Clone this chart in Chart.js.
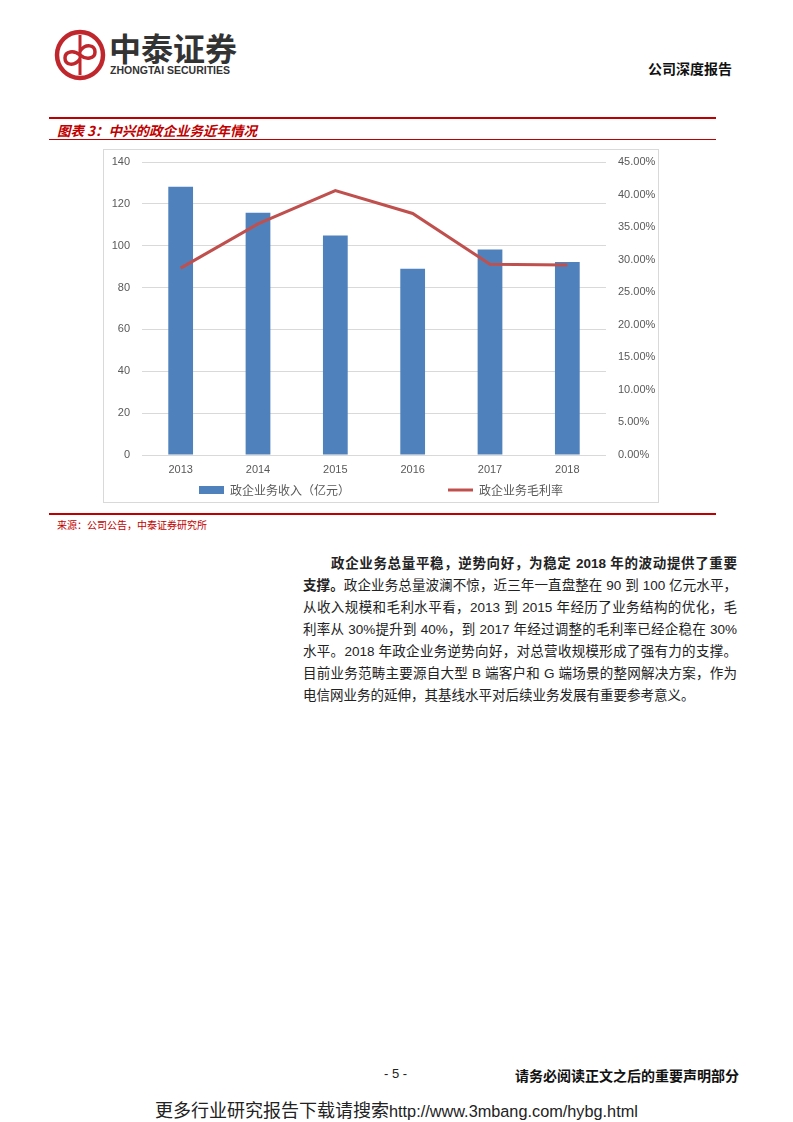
<!DOCTYPE html>
<html>
<head>
<meta charset="utf-8">
<script src="https://cdn.jsdelivr.net/npm/chart.js@4.4.1/dist/chart.umd.min.js"></script>
<style>
  body { margin: 0; background: #fff; font-family: "Liberation Sans", "Noto Sans CJK SC", sans-serif; }
  .page { position: relative; width: 793px; height: 1122px; overflow: hidden; }
  .abs { position: absolute; white-space: nowrap; }
  .red-line { position: absolute; left: 49px; width: 667px; background: #c00000; }
  #chartBox { position: absolute; left: 103px; top: 149px; width: 556px; height: 354px;
              border: 1px solid #d9d9d9; box-sizing: border-box; }
  .body-text { position: absolute; left: 303px; top: 553px; width: 434px; font-size: 13.5px;
               line-height: 22px; color: #222; }
  .body-text div { text-align: justify; text-align-last: justify; white-space: nowrap; }
  .body-text div.last { text-align-last: left; }
</style>
</head>
<body>
<div class="page">
  <!-- header -->
  <svg class="abs" style="left:54px;top:29px" width="52" height="52" viewBox="0 0 52 52">
    <circle cx="26" cy="26" r="23" fill="none" stroke="#c0272d" stroke-width="4.5"/>
    <path d="M26 6 V46" stroke="#c0272d" stroke-width="3" fill="none"/>
    <path d="M26 30 C20 38 11 36 11 29 C11 22 20 21 26 26 C32 31 41 30 41 23 C41 16 32 14 26 22"
          stroke="#c0272d" stroke-width="3.5" fill="none"/>
  </svg>
  <div class="abs" style="left:109px;top:29px;font-size:32px;font-weight:bold;color:#333;font-family:'Noto Sans CJK SC';line-height:36px">中泰证券</div>
  <div class="abs" style="left:110px;top:64px;font-size:10.5px;font-weight:bold;color:#333;font-family:'Liberation Sans'">ZHONGTAI SECURITIES</div>
  <div class="abs" style="left:648px;top:58px;font-size:14px;font-weight:bold;color:#111;font-family:'Noto Sans CJK SC'">公司深度报告</div>

  <!-- figure title -->
  <div class="red-line" style="top:117px;height:2px"></div>
  <div class="abs" style="left:57px;top:120px;font-size:13.5px;font-weight:bold;font-style:italic;color:#c00000;font-family:'Noto Sans CJK SC'">图表 3：中兴的政企业务近年情况</div>
  <div class="red-line" style="top:139px;height:1px"></div>

  <div id="chartBox"><canvas id="govChart"></canvas></div>

  <div class="red-line" style="top:513px;height:1.5px"></div>
  <div class="abs" style="left:57px;top:517px;font-size:10px;color:#c00000;font-family:'Noto Sans CJK SC'">来源：公司公告，中泰证券研究所</div>

  <!-- body text -->
  <div class="body-text">
    <div style="padding-left:28px;font-weight:bold">政企业务总量平稳，逆势向好，为稳定 2018 年的波动提供了重要</div>
    <div><b>支撑。</b>政企业务总量波澜不惊，近三年一直盘整在 90 到 100 亿元水平，</div>
    <div>从收入规模和毛利水平看，2013 到 2015 年经历了业务结构的优化，毛</div>
    <div>利率从 30%提升到 40%，到 2017 年经过调整的毛利率已经企稳在 30%</div>
    <div>水平。2018 年政企业务逆势向好，对总营收规模形成了强有力的支撑。</div>
    <div>目前业务范畴主要源自大型 B 端客户和 G 端场景的整网解决方案，作为</div>
    <div class="last">电信网业务的延伸，其基线水平对后续业务发展有重要参考意义。</div>
  </div>

  <!-- footer -->
  <div class="abs" style="left:384px;top:1066px;font-size:13px;color:#222">- 5 -</div>
  <div class="abs" style="left:515px;top:1065px;font-size:14px;font-weight:bold;color:#111;font-family:'Noto Sans CJK SC'">请务必阅读正文之后的重要声明部分</div>
  <div class="abs" style="left:155px;top:1096px;font-size:18px;color:#222;font-family:'Noto Sans CJK SC'">更多行业研究报告下载请搜索<span style="font-family:'Liberation Sans';font-size:16.3px">http://www.3mbang.com/hybg.html</span></div>
</div>

<script>
  // chart data
  const years = ['2013', '2014', '2015', '2016', '2017', '2018'];
  const revenue = [128.2, 115.8, 104.9, 89.0, 98.2, 92.2];   // 亿元
  const grossMargin = [28.7, 35.5, 40.6, 37.1, 29.3, 29.2];   // %
  const revenueLabel = '政企业务收入（亿元）';
  const marginLabel = '政企业务毛利率';

  const barColor = '#4f81bd';
  const lineColor = '#c0504d';
  const tickColor = '#595959';
  const gridColor = '#d9d9d9';

  // fixed axis sizes so the plot area lines up with the page
  function fitVertical(width) {
    return function(scale) {
      scale.width = width;
      scale.paddingTop = 0;
      scale.paddingBottom = 0;
    };
  }

  const ctx = document.getElementById('govChart').getContext('2d');
  const govChart = new Chart(ctx, {
    data: {
      labels: years,
      datasets: [{
        type: 'bar',
        label: revenueLabel,
        data: revenue,
        backgroundColor: barColor,
        barPercentage: 0.32,
        categoryPercentage: 1,
        yAxisID: 'y',
        order: 1
      }, {
        type: 'line',
        label: marginLabel,
        data: grossMargin,
        borderColor: lineColor,
        borderWidth: 3,
        pointRadius: 0,
        tension: 0,
        yAxisID: 'y1',
        order: 0
      }]
    },
    options: {
      responsive: true,
      maintainAspectRatio: false,
      animation: false,
      layout: { padding: { top: 12, bottom: 0, left: 0, right: 0 } },
      plugins: {
        tooltip: { enabled: false },
        legend: {
          position: 'bottom',
          maxHeight: 26,
          labels: {
            usePointStyle: true,
            pointStyleWidth: 25,
            boxHeight: 8,
            padding: 8,
            color: tickColor,
            font: { size: 12, family: '"Noto Sans CJK SC", sans-serif' },
            generateLabels: function() {
              return [
                { text: revenueLabel + '\u3000'.repeat(8), fillStyle: barColor, strokeStyle: barColor,
                  lineWidth: 0, pointStyle: 'rect', datasetIndex: 0, fontColor: tickColor },
                { text: marginLabel, fillStyle: lineColor, strokeStyle: lineColor,
                  lineWidth: 3, pointStyle: 'line', datasetIndex: 1, fontColor: tickColor }
              ];
            }
          }
        }
      },
      scales: {
        x: {
          grid: { display: false, drawTicks: false },
          border: { display: false },
          ticks: { color: tickColor, padding: 8, font: { size: 11, family: '"Liberation Sans", sans-serif' } },
          afterFit: function(scale) { scale.height = 21; }
        },
        y: {
          position: 'left',
          min: 0,
          max: 140,
          grid: { color: gridColor, drawTicks: false },
          border: { display: false },
          ticks: { stepSize: 20, color: tickColor, padding: 12, font: { size: 11, family: '"Liberation Sans", sans-serif' } },
          afterFit: fitVertical(38)
        },
        y1: {
          position: 'right',
          min: 0,
          max: 45,
          grid: { drawOnChartArea: false, drawTicks: false },
          border: { display: false },
          ticks: {
            stepSize: 5,
            color: tickColor,
            padding: 12,
            font: { size: 11, family: '"Liberation Sans", sans-serif' },
            callback: function(v) { return v.toFixed(2) + '%'; }
          },
          afterFit: fitVertical(52)
        }
      }
    }
  });
</script>
</body>
</html>
